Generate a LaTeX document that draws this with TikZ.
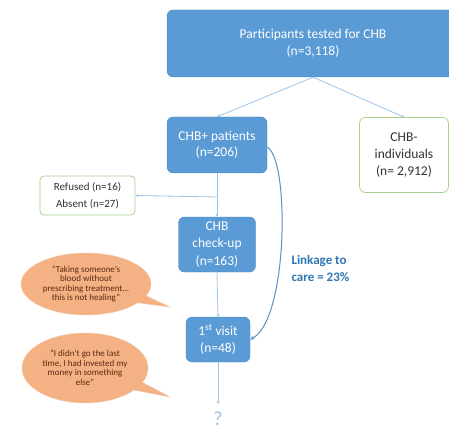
\documentclass[tikz,border=0pt]{standalone}
\usepackage{fontspec}
\setmainfont{Carlito}
\usetikzlibrary{shapes.callouts,arrows.meta}
\definecolor{boxblue}{HTML}{5B9BD5}
\definecolor{boxborder}{HTML}{4A86C0}
\definecolor{linkblue}{HTML}{9DC3E6}
\definecolor{greenline}{HTML}{A9D18E}
\definecolor{bubblefill}{HTML}{F4B183}
\definecolor{bubbleline}{HTML}{F8CBAD}
\definecolor{bubbletext}{HTML}{5A2A10}
\definecolor{labelblue}{HTML}{2E75B6}
\begin{document}
\begin{tikzpicture}[x=1pt,y=-1pt,
  bluebox/.style={draw=boxborder, fill=boxblue, rounded corners=6pt, text=white, align=center, font=\fontsize{13.5}{16.5}\selectfont, inner sep=0pt},
  greenbox/.style={draw=greenline, line width=0.8pt, fill=white, rounded corners=6pt, text=black!80, align=center, inner sep=0pt},
  conn/.style={draw=linkblue, line width=0.8pt, -{Stealth[length=3pt,width=3pt]}},
  bubble/.style={ellipse callout, draw=bubbleline, fill=bubblefill, text=bubbletext, align=center, font=\fontsize{9}{9.5}\selectfont, inner sep=0pt}]
\useasboundingbox (0,0) rectangle (449,430);
\node[bluebox, minimum width=292pt, minimum height=67pt] (top) at (313,43.5) {Participants tested for CHB\\(n=3,118)};
\node[bluebox, minimum width=100pt, minimum height=56pt] (chbp) at (217,145) {CHB+ patients\\(n=206)};
\node[greenbox, minimum width=89pt, minimum height=75pt, font=\fontsize{13.5}{17}\selectfont] (chbm) at (404,155) {CHB-\\individuals\\(n= 2,912)};
\node[greenbox, minimum width=95pt, minimum height=39pt, rounded corners=4pt, font=\fontsize{11}{17}\selectfont] (ref) at (87.5,195.5) {Refused (n=16)\\Absent (n=27)};
\node[bluebox, minimum width=77pt, minimum height=55pt, font=\fontsize{13.5}{17.5}\selectfont] (chk) at (217,244.5) {CHB\\check-up\\(n=163)};
\node[bluebox, minimum width=64pt, minimum height=45pt] (vis) at (218,339.5) {1\textsuperscript{st} visit\\(n=48)};
\coordinate (split) at (217,197);
\coordinate (qend) at (218,404);
\node[text=linkblue, font=\fontsize{20}{20}\selectfont] (q) at (218,419) {?};
\node[text=labelblue, font=\bfseries\fontsize{13}{17}\selectfont, align=left, anchor=west] (link) at (288,268) {Linkage to\\care = 23\%};
\node[bubble, minimum width=130pt, minimum height=62pt, callout absolute pointer={(170,307)}] (b1) at (86,284) {``Taking someone's\\blood without\\prescribing treatment...\\this is not healing''};
\node[bubble, minimum width=126pt, minimum height=70pt, callout absolute pointer={(170,397)}] (b2) at (85,368) {``I didn't go the last\\time, I had invested my\\money in something\\else''};
\draw[conn] (top.south) -- (chbp.north);
\draw[conn] (top.south) -- (chbm.north);
\draw[linkblue, line width=0.8pt] (chbp.south) -- (split);
\draw[conn] (split) -- (chk.north);
\draw[conn] (split) -- (ref.east);
\draw[conn] (chk.south) -- (vis.north);
\draw[conn] (vis.south) -- (qend);
\draw[draw=labelblue!80, line width=1pt, -{Stealth[length=4pt,width=4pt]}] (chbp.east) ++(0,2) .. controls (290,160) and (288,320) .. (vis.east);
\end{tikzpicture}
\end{document}
